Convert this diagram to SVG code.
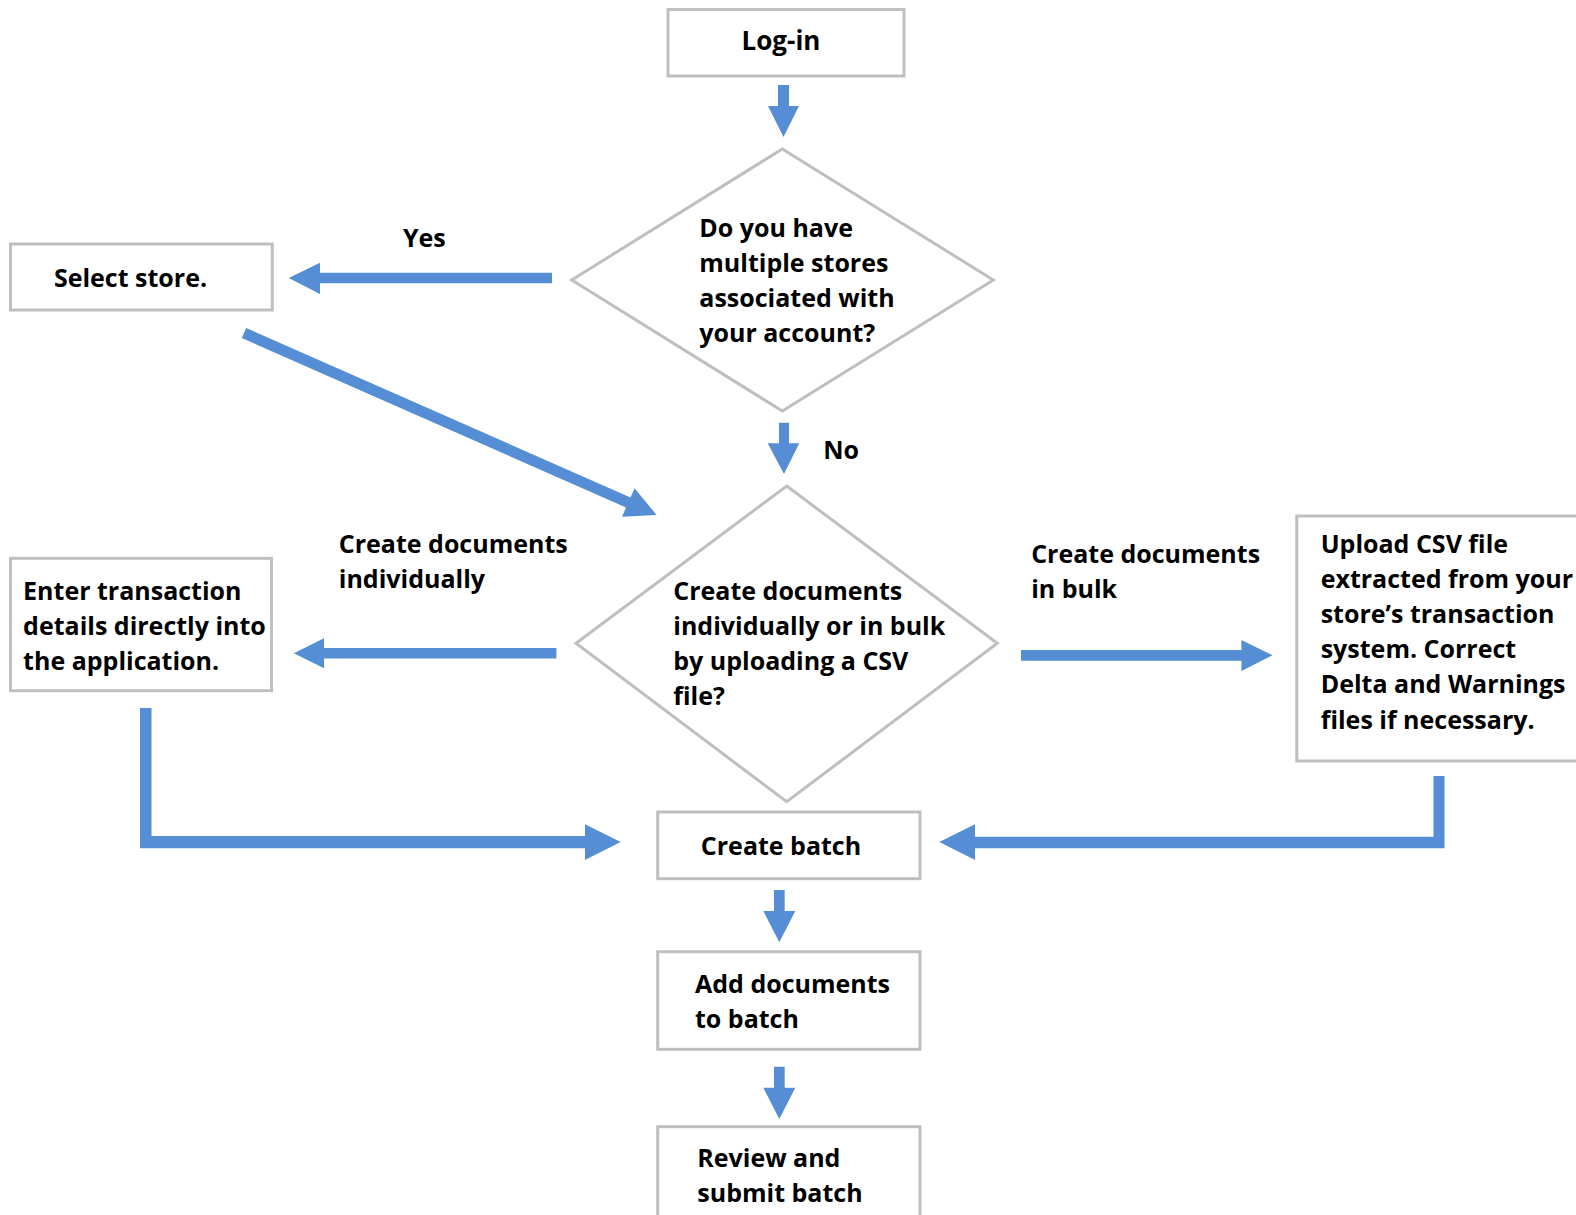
<svg xmlns="http://www.w3.org/2000/svg" width="1576" height="1215" viewBox="0 0 1576 1215">
<style>
.box{fill:#fff;stroke:#bfbfbf;stroke-width:3}
.arr{fill:#558ed5;stroke:none}
text{font-family:"Open Sans","Noto Sans","DejaVu Sans",sans-serif;font-weight:bold;font-size:25px;fill:#000}
.mid{text-anchor:middle}
</style>
<rect width="1576" height="1215" fill="#fff"/>
<g id="connectors">
<path class="arr" d="M778,85 H789 V106 H799 L783.5,137 L768,106 H778 Z"/>
<path class="arr" d="M779,422.7 H789 V443.3 H799.3 L784,474 L767.7,443.3 H779 Z"/>
<path class="arr" d="M552,272.7 V283.3 H320 V294 L288.7,278 L320,262.7 V272.7 Z"/>
<path class="arr" d="M556.4,648 V658.5 H324 V668.3 L293.8,653.3 L324,638.3 V648 Z"/>
<path class="arr" d="M1021,650 H1241.4 V640 L1272.6,655.3 L1241.4,671 V660.7 H1021 Z"/>
<path class="arr" transform="translate(244,333) rotate(23.8)" d="M0,-5.5 H420 V-15.5 L451,0 L420,15.5 V5.5 H0 Z"/>
<path class="arr" d="M140,708 V848.3 H585 V860 L620.7,842 L585,824.3 V836 H151.5 V708 Z"/>
<path class="arr" d="M1444.5,776 V848.3 H975 V860 L939.3,842 L975,824.3 V836.7 H1433.5 V776 Z"/>
<path class="arr" d="M774,890 H784.7 V911 H795.3 L779.3,942.3 L763.3,911 H774 Z"/>
<path class="arr" d="M774,1066.7 H784.7 V1087.7 H795.3 L779.3,1119 L763.3,1087.7 H774 Z"/>
</g>
<g id="edge-labels">
<text x="403" y="246.7">Yes</text>
<text x="823.3" y="459.3">No</text>
<text x="338.8" y="553.3">Create documents</text>
<text x="338.8" y="588.3">individually</text>
<text x="1031.2" y="563.3">Create documents</text>
<text x="1031.2" y="598.3">in bulk</text>
</g>
<g id="login">
<rect class="box" x="668" y="9.5" width="236" height="66.5"/>
<text class="mid" x="781" y="50" style="font-size:26px">Log-in</text>
</g>
<g id="decision-stores">
<polygon class="box" points="782.3,149 993.3,280 782.3,411 571.7,280"/>
<text x="699.3" y="237.3">Do you have</text>
<text x="699.3" y="272.3">multiple stores</text>
<text x="699.3" y="307.3">associated with</text>
<text x="699.3" y="342.3">your account?</text>
</g>
<g id="select-store">
<rect class="box" x="10.5" y="244" width="261.8" height="66"/>
<text class="mid" x="130.5" y="286.7">Select store.</text>
</g>
<g id="decision-method">
<polygon class="box" points="786.7,486 997.3,643.3 786.7,801.7 576,643.3"/>
<text x="673.3" y="600">Create documents</text>
<text x="673.3" y="635">individually or in bulk</text>
<text x="673.3" y="670">by uploading a CSV</text>
<text x="673.3" y="705">file?</text>
</g>
<g id="enter-transaction">
<rect class="box" x="10.5" y="558.3" width="261" height="132.4"/>
<text x="23.1" y="600">Enter transaction</text>
<text x="23.1" y="635">details directly into</text>
<text x="23.1" y="670">the application.</text>
</g>
<g id="upload-csv">
<rect class="box" x="1296.8" y="516" width="300" height="245"/>
<text x="1320.7" y="552.7">Upload CSV file</text>
<text x="1320.7" y="588">extracted from your</text>
<text x="1320.7" y="623">store’s transaction</text>
<text x="1320.7" y="658">system. Correct</text>
<text x="1320.7" y="693">Delta and Warnings</text>
<text x="1320.7" y="728.5">files if necessary.</text>
</g>
<g id="create-batch">
<rect class="box" x="657.7" y="812" width="262.3" height="66.7"/>
<text class="mid" x="781" y="855">Create batch</text>
</g>
<g id="add-documents">
<rect class="box" x="657.7" y="951.7" width="262.3" height="97.6"/>
<text x="695" y="993.3">Add documents</text>
<text x="695" y="1028.3">to batch</text>
</g>
<g id="review-submit">
<rect class="box" x="657.7" y="1126.7" width="262.3" height="120"/>
<text x="697.3" y="1166.7">Review and</text>
<text x="697.3" y="1201.7">submit batch</text>
</g>
</svg>
